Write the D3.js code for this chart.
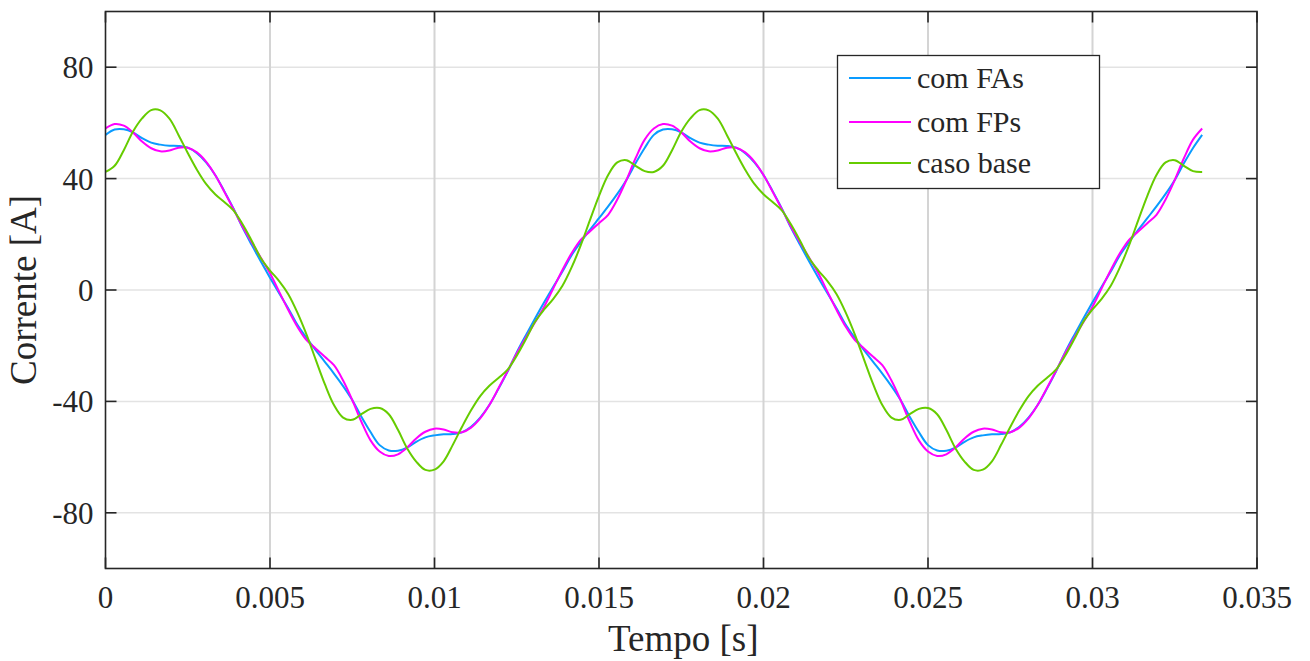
<!DOCTYPE html>
<html><head><meta charset="utf-8">
<script src="https://cdn.jsdelivr.net/npm/d3@7"></script>
<style>
body{margin:0;background:#fff;}
svg{display:block;}
text{font-family:"Liberation Serif","Times New Roman",serif;fill:#262626;}
</style>
</head><body>
<svg id="c" width="1310" height="661"></svg>
<script>
// ---- data ----
const time = [
0,0.000278,0.000556,0.000833,0.001111,0.001389,0.001667,0.001944,0.002222,0.0025,
0.002778,0.003056,0.003333,0.003611,0.003889,0.004167,0.004444,0.004722,0.005,0.005278,
0.005556,0.005833,0.006111,0.006389,0.006667,0.006944,0.007222,0.0075,0.007778,0.008056,
0.008333,0.008611,0.008889,0.009167,0.009444,0.009722,0.01,0.010278,0.010556,0.010833,
0.011111,0.011389,0.011667,0.011944,0.012222,0.0125,0.012778,0.013056,0.013333,0.013611,
0.013889,0.014167,0.014444,0.014722,0.015,0.015278,0.015556,0.015833,0.016111,0.016389,
0.016667,0.016944,0.017222,0.0175,0.017778,0.018056,0.018333,0.018611,0.018889,0.019167,
0.019444,0.019722,0.02,0.020278,0.020556,0.020833,0.021111,0.021389,0.021667,0.021944,
0.022222,0.0225,0.022778,0.023056,0.023333,0.023611,0.023889,0.024167,0.024444,0.024722,
0.025,0.025278,0.025556,0.025833,0.026111,0.026389,0.026667,0.026944,0.027222,0.0275,
0.027778,0.028056,0.028333,0.028611,0.028889,0.029167,0.029444,0.029722,0.03,0.030278,
0.030556,0.030833,0.031111,0.031389,0.031667,0.031944,0.032222,0.0325,0.032778,0.033056,
0.033333];

const comFAs = [
55.7,57.6,57.7,56.6,54.5,52.9,52.2,51.8,51.7,51.1,
49.1,45.8,41.3,35.5,29.3,22.4,16.2,10.2,4.4,-1.2,
-6.6,-12.5,-17.2,-21.6,-25.8,-30.0,-34.5,-39.5,-45.5,-51.0,
-55.7,-57.6,-57.7,-56.6,-54.5,-52.9,-52.2,-51.8,-51.7,-51.1,
-49.1,-45.8,-41.3,-35.5,-29.3,-22.4,-16.2,-10.2,-4.4,1.2,
6.6,12.5,17.2,21.6,25.8,30.0,34.5,39.5,45.5,51.0,
55.7,57.6,57.7,56.6,54.5,52.9,52.2,51.8,51.7,51.1,
49.1,45.8,41.3,35.5,29.3,22.4,16.2,10.2,4.4,-1.2,
-6.6,-12.5,-17.2,-21.6,-25.8,-30.0,-34.5,-39.5,-45.5,-51.0,
-55.7,-57.6,-57.7,-56.6,-54.5,-52.9,-52.2,-51.8,-51.7,-51.1,
-49.1,-45.8,-41.3,-35.5,-29.3,-22.4,-16.2,-10.2,-4.4,1.2,
6.6,12.5,17.2,21.6,25.8,30.0,34.5,39.5,45.5,51.0,
55.7];

const comFPs = [
58.0,59.6,59.0,56.6,53.3,50.9,49.8,50.1,51.1,51.1,
49.4,46.1,41.3,35.3,29.1,22.7,17.1,11.6,6.0,-0.6,
-7.2,-13.2,-18.0,-21.0,-24.0,-27.0,-32.5,-39.5,-47.3,-54.0,
-58.0,-59.6,-59.0,-56.6,-53.3,-50.9,-49.8,-50.1,-51.1,-51.1,
-49.4,-46.1,-41.3,-35.3,-29.1,-22.7,-17.1,-11.6,-6.0,0.6,
7.2,13.2,18.0,21.0,24.0,27.0,32.5,39.5,47.3,54.0,
58.0,59.6,59.0,56.6,53.3,50.9,49.8,50.1,51.1,51.1,
49.4,46.1,41.3,35.3,29.1,22.7,17.1,11.6,6.0,-0.6,
-7.2,-13.2,-18.0,-21.0,-24.0,-27.0,-32.5,-39.5,-47.3,-54.0,
-58.0,-59.6,-59.0,-56.6,-53.3,-50.9,-49.8,-50.1,-51.1,-51.1,
-49.4,-46.1,-41.3,-35.3,-29.1,-22.7,-17.1,-11.6,-6.0,0.6,
7.2,13.2,18.0,21.0,24.0,27.0,32.5,39.5,47.3,54.0,
58.0];

const casoBase = [
42.4,44.6,50.2,56.8,61.6,64.6,64.5,61.5,55.6,49.2,
43.2,38.1,34.4,31.6,28.6,23.6,17.7,11.4,7.0,3.2,
-1.5,-8.1,-16.0,-25.0,-33.8,-41.3,-45.8,-46.6,-44.6,-42.7,
-42.4,-44.6,-50.2,-56.8,-61.6,-64.6,-64.5,-61.5,-55.6,-49.2,
-43.2,-38.1,-34.4,-31.6,-28.6,-23.6,-17.7,-11.4,-7.0,-3.2,
1.5,8.1,16.0,25.0,33.8,41.3,45.8,46.6,44.6,42.7,
42.4,44.6,50.2,56.8,61.6,64.6,64.5,61.5,55.6,49.2,
43.2,38.1,34.4,31.6,28.6,23.6,17.7,11.4,7.0,3.2,
-1.5,-8.1,-16.0,-25.0,-33.8,-41.3,-45.8,-46.6,-44.6,-42.7,
-42.4,-44.6,-50.2,-56.8,-61.6,-64.6,-64.5,-61.5,-55.6,-49.2,
-43.2,-38.1,-34.4,-31.6,-28.6,-23.6,-17.7,-11.4,-7.0,-3.2,
1.5,8.1,16.0,25.0,33.8,41.3,45.8,46.6,44.6,42.7,
42.4];

const seriesNames = ["com FAs", "com FPs", "caso base"];
const seriesColors = ["#0a9bff", "#ff00ff", "#66cc00"];
const xTicks = [0, 0.005, 0.01, 0.015, 0.02, 0.025, 0.03, 0.035];
const xTickLabels = ["0", "0.005", "0.01", "0.015", "0.02", "0.025", "0.03", "0.035"];
const yTicks = [-80, -40, 0, 40, 80];
const yTickLabels = ["-80", "-40", "0", "40", "80"];
const xTitle = "Tempo [s]";
const yTitle = "Corrente [A]";

// ---- layout ----
const L = 105.5, R = 1257, T = 11.5, B = 568.5;
const svg = d3.select("#c");
const x = d3.scaleLinear().domain([0, 0.035]).range([L, R]);
const y = d3.scaleLinear().domain([-100, 100]).range([B, T]);

// grid
svg.append("g").selectAll("line").data(yTicks).join("line")
  .attr("x1", L).attr("x2", R).attr("y1", d => y(d)).attr("y2", d => y(d))
  .attr("stroke", "#e3e3e3").attr("stroke-width", 1.5);
svg.append("g").selectAll("line").data(xTicks.slice(1, -1)).join("line")
  .attr("x1", d => x(d)).attr("x2", d => x(d)).attr("y1", T).attr("y2", B)
  .attr("stroke", "#d4d4d4").attr("stroke-width", 2);

// clip
svg.append("clipPath").attr("id", "clip").append("rect")
  .attr("x", L).attr("y", T).attr("width", R - L).attr("height", B - T);

const series = [comFAs, comFPs, casoBase];
const line = d3.line().x((d, i) => x(time[i])).y(d => y(d)).curve(d3.curveCatmullRom.alpha(0.5));
const lg = svg.append("g").attr("clip-path", "url(#clip)");
series.forEach((s, k) => {
  lg.append("path").datum(s).attr("d", line)
    .attr("fill", "none").attr("stroke", seriesColors[k]).attr("stroke-width", 2)
    .attr("stroke-linejoin", "round");
});

// axes (box with inward ticks)
const axisColor = "#262626";
const tickLen = 11;
const ax = svg.append("g").attr("stroke", axisColor).attr("stroke-width", 1.6);
ax.append("rect").attr("x", L).attr("y", T).attr("width", R - L).attr("height", B - T).attr("fill", "none");
yTicks.forEach(v => {
  ax.append("line").attr("x1", L).attr("x2", L + tickLen).attr("y1", y(v)).attr("y2", y(v));
  ax.append("line").attr("x1", R).attr("x2", R - tickLen).attr("y1", y(v)).attr("y2", y(v));
});
xTicks.forEach(v => {
  ax.append("line").attr("x1", x(v)).attr("x2", x(v)).attr("y1", B).attr("y2", B - tickLen);
  ax.append("line").attr("x1", x(v)).attr("x2", x(v)).attr("y1", T).attr("y2", T + tickLen);
});

// tick labels
svg.append("g").selectAll("text").data(yTicks).join("text")
  .attr("x", L - 12).attr("y", d => y(d) + 11)
  .attr("text-anchor", "end").attr("font-size", 31)
  .text((d, i) => yTickLabels[i]);
svg.append("g").selectAll("text").data(xTicks).join("text")
  .attr("x", d => x(d)).attr("y", 608)
  .attr("text-anchor", "middle").attr("font-size", 31)
  .text((d, i) => xTickLabels[i]);

// titles
svg.append("text").attr("x", (L + R) / 2 + 2).attr("y", 651)
  .attr("text-anchor", "middle").attr("font-size", 37).text(xTitle);
svg.append("text").attr("transform", `translate(36,${(T + B) / 2}) rotate(-90)`)
  .attr("text-anchor", "middle").attr("font-size", 37).text(yTitle);

// legend
const leg = svg.append("g");
leg.append("rect").attr("x", 837.5).attr("y", 55.5).attr("width", 262).attr("height", 133)
  .attr("fill", "#fff").attr("stroke", axisColor).attr("stroke-width", 1.3);
const rowsY = [78, 122, 163];
seriesNames.forEach((n, k) => {
  leg.append("line").attr("x1", 849).attr("x2", 911).attr("y1", rowsY[k]).attr("y2", rowsY[k])
    .attr("stroke", seriesColors[k]).attr("stroke-width", 2);
  leg.append("text").attr("x", 917).attr("y", rowsY[k] + 10).attr("font-size", 30).text(n);
});
</script>
</body></html>
